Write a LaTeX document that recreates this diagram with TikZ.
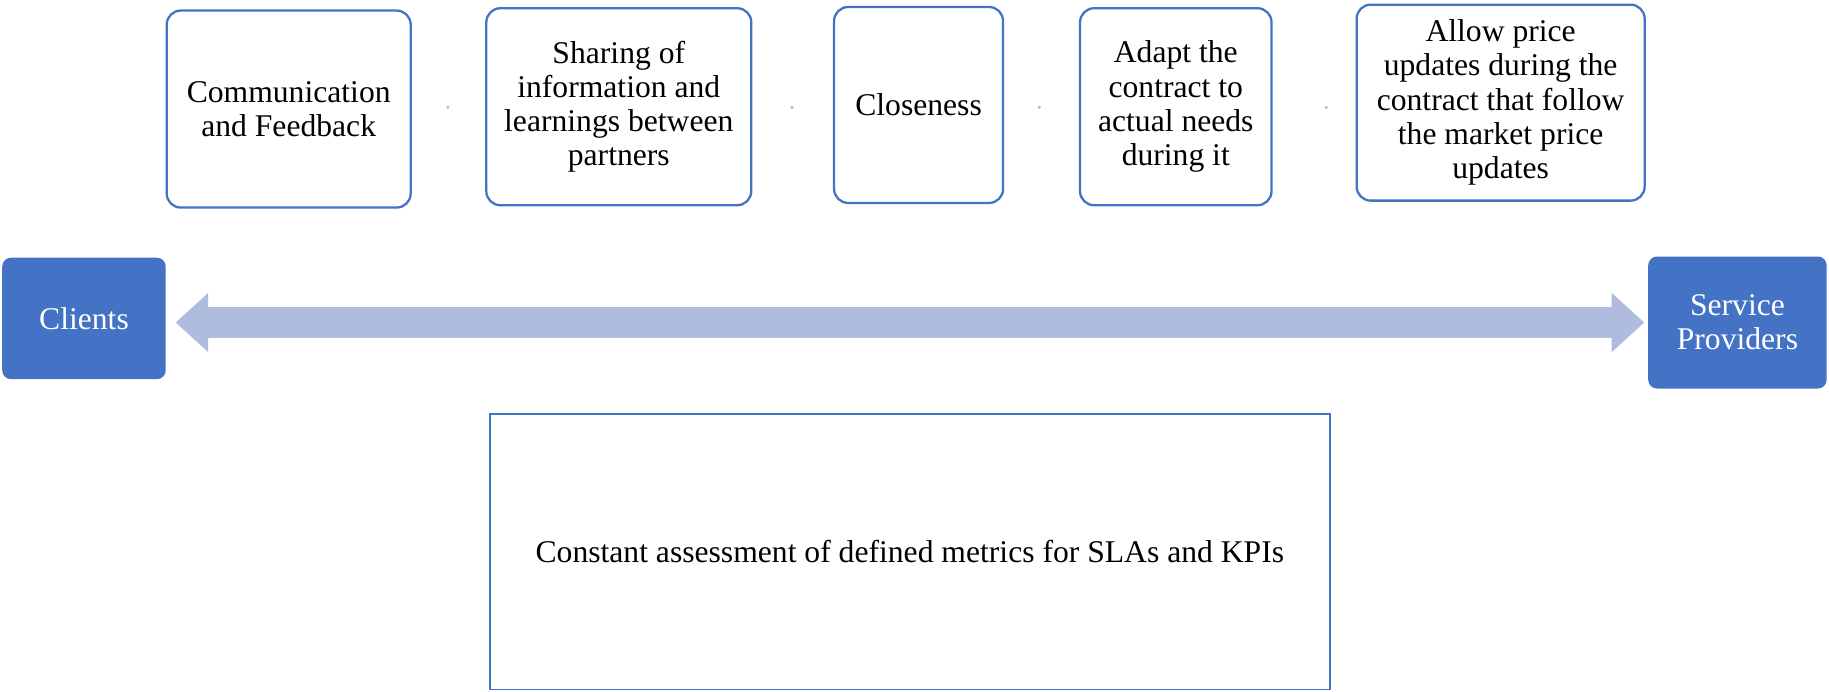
\documentclass[tikz,border=0pt]{standalone}
\usepackage{fontspec}
\setmainfont{Liberation Serif}
\usetikzlibrary{arrows.meta, positioning}

\definecolor{boxblue}{RGB}{68,114,196}
\definecolor{arrowblue}{RGB}{176,188,222}

\begin{document}
\begin{tikzpicture}[
        x=0.02333cm, y=-0.02333cm,
        % Estilo para las cajas de factores
        factorbox/.style={
                rectangle,
                rounded corners=8pt,
                draw=boxblue,
                line width=1.3pt,
                fill=white,
                minimum height=3.94cm,
                align=center,
                font=\fontsize{18}{19.5}\selectfont,
                text=black
            },
        % Estilo para las partes
        partybox/.style={
                rectangle,
                rounded corners=5pt,
                fill=boxblue,
                align=center,
                font=\fontsize{18}{19.5}\selectfont,
                text=white
            },
        % Caja de metricas
        metricbox/.style={
                rectangle,
                draw=boxblue,
                line width=1pt,
                minimum width=16.8cm,
                minimum height=5.51cm,
                align=center,
                font=\fontsize{18}{19.5}\selectfont
            },
        % Puntos entre cajas
        dotmark/.style={
                circle,
                fill=arrowblue,
                inner sep=0pt,
                minimum size=2pt
            },
        % Flecha doble
        bigarrow/.style={
                {Triangle[width=1.143cm, length=0.653cm]}-{Triangle[width=1.143cm, length=0.653cm]},
                line width=0.607cm,
                color=arrowblue
            }
    ]

    \useasboundingbox (0,0) rectangle (1568,593);

    % Factores
    \node[factorbox, minimum width=4.88cm] (comm) at (247.5,93.5) {Communication\\and Feedback};
    \node[factorbox, minimum width=5.30cm] (share) at (530.5,91.5) {Sharing of\\information and\\learnings between\\partners};
    \node[factorbox, minimum width=3.38cm, minimum height=3.92cm] (close) at (787.5,90) {Closeness};
    \node[factorbox, minimum width=3.83cm] (adapt) at (1008,91.5) {Adapt the\\contract to\\actual needs\\during it};
    \node[factorbox, minimum width=5.76cm, minimum height=3.92cm] (price) at (1286.5,88) {Allow price\\updates during the\\contract that follow\\the market price\\updates};

    % Puntos
    \node[dotmark] (dot1) at (384,92) {};
    \node[dotmark] (dot2) at (679,92) {};
    \node[dotmark] (dot3) at (891,92) {};
    \node[dotmark] (dot4) at (1137,92) {};

    % Partes
    \node[partybox, minimum width=3.27cm, minimum height=2.43cm] (clients) at (72,273) {Clients};
    \node[partybox, minimum width=3.57cm, minimum height=2.64cm] (providers) at (1489.5,276.5) {Service\\Providers};

    % Flecha
    \draw[bigarrow, shorten <=0.19cm, shorten >=0.07cm] (clients.east |- providers.west) -- (providers.west);

    % Metricas
    \node[metricbox] (metrics) at (780,473) {Constant assessment of defined metrics for SLAs and KPIs};

\end{tikzpicture}
\end{document}
